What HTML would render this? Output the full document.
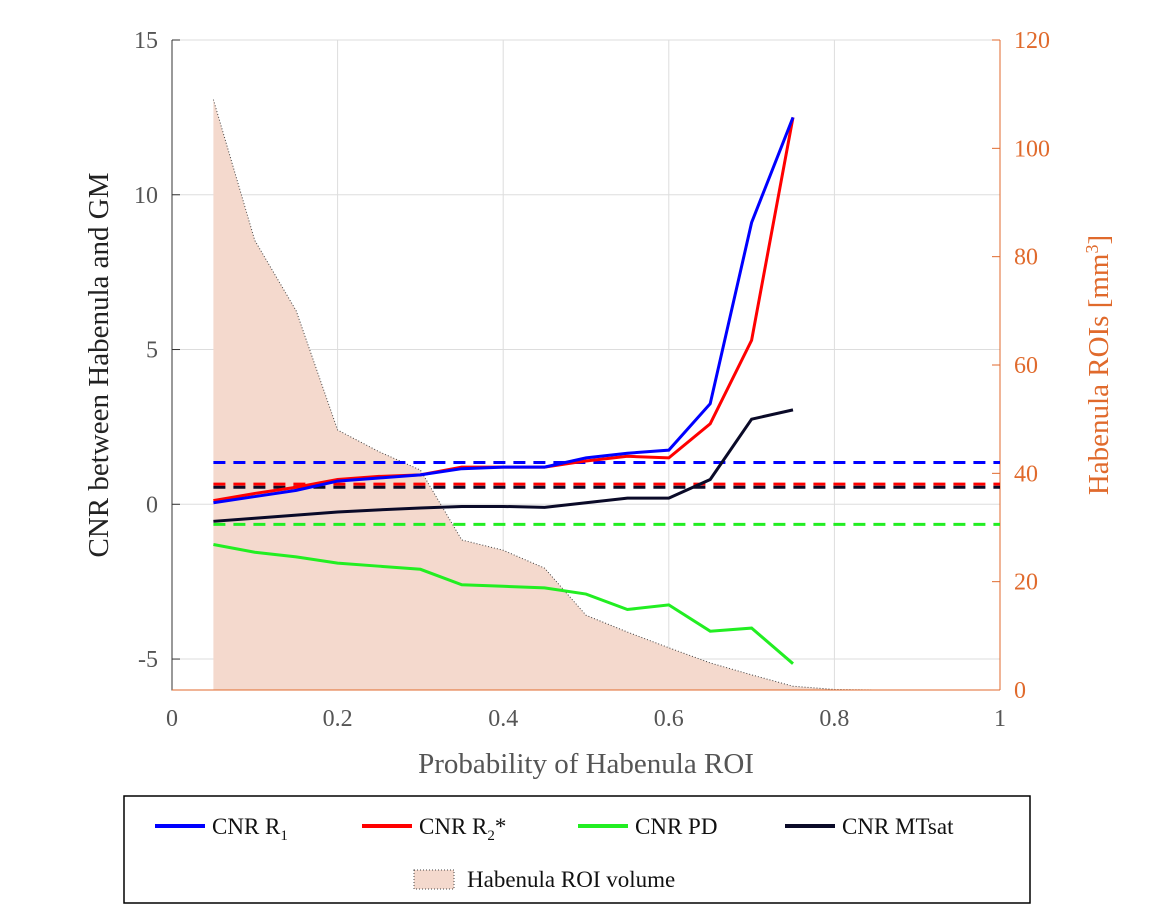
<!DOCTYPE html>
<html><head><meta charset="utf-8"><style>
body{margin:0;background:#fff;width:1174px;height:915px;overflow:hidden}
svg{font-family:"Liberation Serif",serif}
</style></head><body>
<svg id="c" width="1174" height="915"></svg>
<script>
const xs=[0.05,0.1,0.15,0.2,0.25,0.3,0.35,0.4,0.45,0.5,0.55,0.6,0.65,0.7,0.75];
const r1=[0.05,0.25,0.45,0.75,0.85,0.95,1.15,1.2,1.2,1.5,1.65,1.75,3.25,9.1,12.5];
const r2=[0.12,0.35,0.55,0.8,0.9,0.95,1.2,1.2,1.2,1.4,1.55,1.5,2.6,5.3,12.5];
const pd=[-1.3,-1.55,-1.7,-1.9,-2.0,-2.1,-2.6,-2.65,-2.7,-2.9,-3.4,-3.25,-4.1,-4.0,-5.15];
const mt=[-0.55,-0.45,-0.35,-0.25,-0.18,-0.12,-0.07,-0.07,-0.1,0.05,0.2,0.2,0.8,2.75,3.05];
const dashVals=[1.35,0.65,0.55,-0.65];
const volX=[0.05,0.1,0.15,0.2,0.25,0.3,0.35,0.4,0.45,0.5,0.55,0.6,0.65,0.7,0.75,0.8,0.85,0.9,0.95,1.0];
const vol=[109,83,70,48,44,40.6,27.7,25.8,22.5,13.8,10.7,7.8,5,2.8,0.7,0.1,0,0,0,0];
const xTicks=[0,0.2,0.4,0.6,0.8,1];
const yTicks=[-5,0,5,10,15];
const y2Ticks=[0,20,40,60,80,100,120];
const L=172,R=1000,T=40,B=690;
const X=v=>L+(R-L)*v;
const Y=v=>T+(15-v)*(B-T)/21;
const Y2=v=>B-(B-T)*v/120;
const s=document.getElementById('c');const NS='http://www.w3.org/2000/svg';
function el(t,a,txt){const e=document.createElementNS(NS,t);for(const k in a)e.setAttribute(k,a[k]);if(txt!==undefined)e.textContent=txt;s.appendChild(e);return e;}
// grid
xTicks.forEach(v=>{if(v>0&&v<1){const g=el('line',{x1:X(v),x2:X(v),y1:T,y2:B,stroke:'#ddd'});}});
yTicks.forEach(v=>{const g=el('line',{x1:L,x2:R,y1:Y(v),y2:Y(v),stroke:'#ddd'});});
// area
let d='M'+X(volX[0])+','+Y2(0);volX.forEach((x,i)=>d+='L'+X(x)+','+Y2(vol[i]));d+='L'+X(volX[volX.length-1])+','+Y2(0)+'Z';
const ar=el('path',{d:d,fill:'#f4d9cd',stroke:'none'});
let d2='';volX.forEach((x,i)=>d2+=(i?'L':'M')+X(x)+','+Y2(vol[i]));
const al=el('path',{d:d2,fill:'none',stroke:'#444','stroke-width':1,'stroke-dasharray':'1,2'});
// axes
const ax=el('path',{d:`M${L},${T}L${L},${B}L${R},${B}`,fill:'none',stroke:'#333'});
const ax2=el('line',{x1:R,x2:R,y1:T,y2:B,stroke:'#e06a2c'});
const bx=el('line',{x1:L,x2:R,y1:B,y2:B,stroke:'#e06a2c'});
xTicks.forEach(v=>{const t=el('text',{x:X(v),y:B+36,'text-anchor':'middle','font-size':24,fill:'#555'},String(v));});
yTicks.forEach(v=>{el('line',{x1:L,x2:L+8,y1:Y(v),y2:Y(v),stroke:'#333'});const t=el('text',{x:L-14,y:Y(v)+8,'text-anchor':'end','font-size':24,fill:'#555'},String(v));});
y2Ticks.forEach(v=>{el('line',{x1:R-8,x2:R,y1:Y2(v),y2:Y2(v),stroke:'#e06a2c'});const t=el('text',{x:R+14,y:Y2(v)+8,'font-size':24,fill:'#e06a2c'},String(v));});
// dashed
const dcol=['#0000ff','#ff0000','#0a0a28','#22ee22'];
dashVals.forEach((v,i)=>{const l=el('line',{x1:X(0.05),x2:R,y1:Y(v),y2:Y(v),stroke:dcol[i],'stroke-width':3,'stroke-dasharray':'12,8'});});
function line(arr,c,n){let p='';xs.forEach((x,i)=>p+=(i?'L':'M')+X(x)+','+Y(arr[i]));const e=el('path',{d:p,fill:'none',stroke:c,'stroke-width':3});}
line(pd,'#22ee22','cnr-pd-line');line(mt,'#0a0a28','cnr-mtsat-line');line(r2,'#ff0000','cnr-r2-line');line(r1,'#0000ff','cnr-r1-line');
// titles
const xt=el('text',{x:586,y:773,'text-anchor':'middle','font-size':29,fill:'#555'},'Probability of Habenula ROI');
const yt=el('text',{x:0,y:0,'text-anchor':'middle','font-size':29,fill:'#222',transform:'translate(108,365) rotate(-90)'},'CNR between Habenula and GM');
const y2t=el('text',{x:0,y:0,'text-anchor':'middle','font-size':29,fill:'#e06a2c',transform:'translate(1108,365) rotate(-90)'});
y2t.innerHTML='Habenula ROIs [mm<tspan dy="-10" font-size="18">3</tspan><tspan dy="10">]</tspan>';
// legend
const lb=el('rect',{x:124,y:796,width:906,height:107,fill:'#fff',stroke:'#000','stroke-width':1.5});
const items=[[155,'#0000ff','CNR R<tspan dy="6" font-size="15">1</tspan>'],[362,'#ff0000','CNR R<tspan dy="6" font-size="15">2</tspan><tspan dy="-6">*</tspan>'],[578,'#22ee22','CNR PD'],[785,'#0a0a28','CNR MTsat']];
items.forEach(it=>{const l=el('line',{x1:it[0],x2:it[0]+50,y1:826,y2:826,stroke:it[1],'stroke-width':4});const t=el('text',{x:it[0]+57,y:834,'font-size':23,fill:'#111'});t.innerHTML=it[2];});
const sw=el('rect',{x:414,y:870,width:40,height:19,fill:'#f4d9cd',stroke:'#444','stroke-dasharray':'1,2'});
const vt=el('text',{x:467,y:887,'font-size':23,fill:'#111'},'Habenula ROI volume');
</script>
</body></html>
